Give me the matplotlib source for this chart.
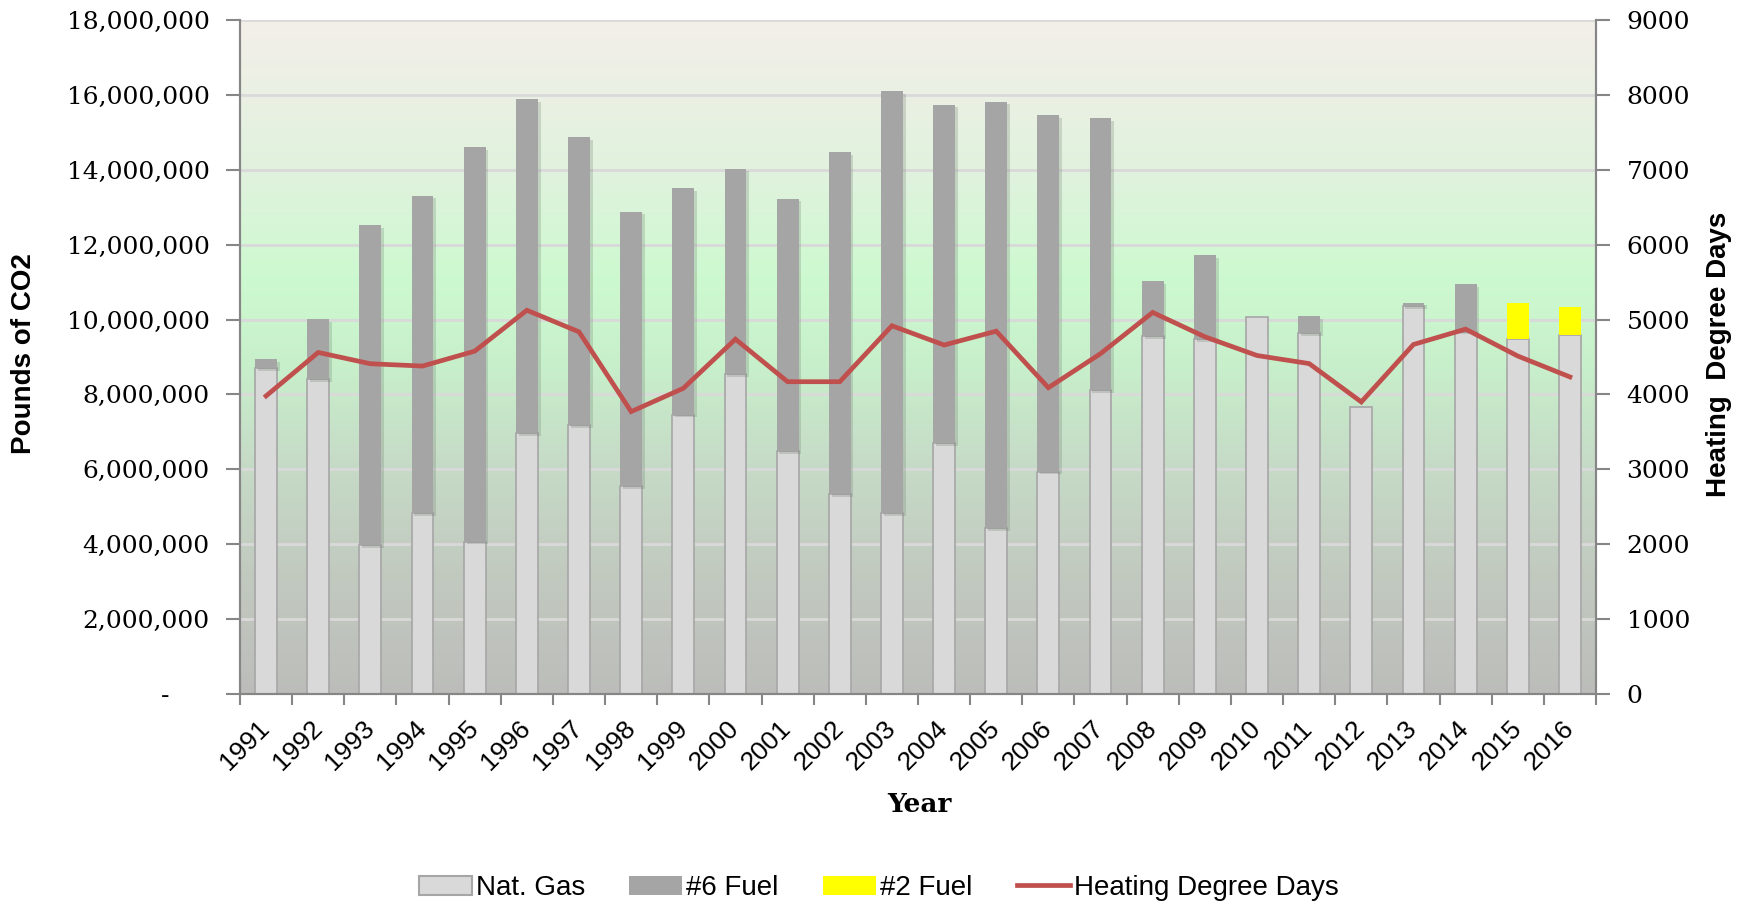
import matplotlib
matplotlib.use("Agg")
import matplotlib.pyplot as plt
import matplotlib.patheffects as pe
import numpy as np
from matplotlib.colors import LinearSegmentedColormap
from matplotlib.patches import Patch
from matplotlib.lines import Line2D

# data
years = [str(y) for y in range(1991, 2017)]
nat_gas = [8.70, 8.40, 3.98, 4.84, 4.07, 6.97, 7.19, 5.55, 7.46, 8.54, 6.48, 5.34, 4.84,
           6.70, 4.43, 5.94, 8.12, 9.55, 9.48, 10.07, 9.64, 7.66, 10.36, 9.68, 9.49, 9.58]
fuel6 = [0.24, 1.62, 8.54, 8.47, 10.53, 8.91, 7.69, 7.33, 6.06, 5.49, 6.75, 9.13, 11.26,
         9.04, 11.39, 9.51, 7.27, 1.48, 2.25, 0.0, 0.46, 0.0, 0.09, 1.27, 0.0, 0.0]
fuel2 = [0.0] * 24 + [0.96, 0.75]
hdd = [3980, 4561, 4410, 4379, 4578, 5124, 4836, 3771, 4082, 4738, 4170, 4170, 4917,
       4660, 4845, 4090, 4545, 5095, 4770, 4520, 4412, 3900, 4667, 4872, 4513, 4234]

nat_gas = np.array(nat_gas) * 1e6
fuel6 = np.array(fuel6) * 1e6
fuel2 = np.array(fuel2) * 1e6
x = np.arange(len(years))

fig = plt.figure(figsize=(17.47, 9.08), dpi=100)
ax = fig.add_axes([240 / 1747, 1 - 694 / 908, (1596 - 240) / 1747, (694 - 20) / 908])

# plot area gradient background
bg = LinearSegmentedColormap.from_list("bg", [
    (0.0, "#bcbdba"), (0.18, "#c2cac0"), (0.35, "#c6dcc7"), (0.5, "#c8f1cb"),
    (0.62, "#cdf9d0"), (0.78, "#e1f2de"), (1.0, "#f3efe9")])
ax.imshow(np.linspace(0, 1, 256).reshape(-1, 1), extent=[-0.5, 25.5, 0, 18e6],
          aspect="auto", cmap=bg, origin="lower", zorder=0.1)

shadow = [pe.SimplePatchShadow(offset=(2, -2), shadow_rgbFace="#6f7a6f", alpha=0.25), pe.Normal()]
w = 0.42
ax.bar(x, nat_gas, w, color="#d9d9d9", edgecolor="#a6a6a6", linewidth=1.2, zorder=2)
ax.bar(x, fuel6, w, bottom=nat_gas, color="#a5a5a5", linewidth=0, zorder=2, path_effects=shadow)
ax.bar(x, fuel2, w, bottom=nat_gas + fuel6, color="#ffff00", linewidth=0, zorder=2)

ax.set_xlim(-0.5, 25.5)
ax.set_ylim(0, 18e6)
ax.set_yticks(np.arange(0, 18e6 + 1, 2e6))
ax.set_yticklabels(["-     "] + ["{:,.0f}".format(v) for v in np.arange(2e6, 18e6 + 1, 2e6)],
                   family="DejaVu Serif", fontsize=18)
ax.yaxis.grid(True, color="#d9d9d9", linewidth=2, zorder=0.5)
ax.set_axisbelow(True)

ax.set_xticks(x)
ax.set_xticklabels(years, rotation=45, ha="right", va="center", rotation_mode="anchor",
                   family="Liberation Sans", fontsize=19)
ax.set_xticks(np.arange(-0.5, 26, 1), minor=True)
ax.tick_params(axis="x", which="major", length=0, pad=22)
ax.tick_params(axis="x", which="minor", length=8, width=1.5, color="#868686")
ax.tick_params(axis="y", length=10, width=1.5, color="#868686", pad=12)

for s in ["left", "right", "bottom"]:
    ax.spines[s].set_color("#868686")
    ax.spines[s].set_linewidth(1.5)
ax.spines["top"].set_visible(False)

ax2 = ax.twinx()
ax2.plot(x, hdd, color="#c0504d", linewidth=3.4, solid_joinstyle="miter", zorder=5)
ax2.set_ylim(0, 9000)
ax2.set_yticks(np.arange(0, 9001, 1000))
ax2.set_yticklabels([str(v) for v in range(0, 9001, 1000)], family="DejaVu Serif", fontsize=18)
ax2.tick_params(axis="y", length=10, width=1.5, color="#868686", pad=12)
for s in ["left", "right", "bottom"]:
    ax2.spines[s].set_color("#868686")
    ax2.spines[s].set_linewidth(1.5)
ax2.spines["top"].set_visible(False)

fig.text(24.5 / 1747, 1 - 354 / 908, "Pounds of CO2", rotation=90, ha="center", va="center",
         family="Liberation Sans", fontweight="bold", fontsize=20)
fig.text(1719 / 1747, 1 - 354 / 908, "Heating  Degree Days", rotation=90, ha="center", va="center",
         family="Liberation Sans", fontweight="bold", fontsize=20)
fig.text(919 / 1747, 1 - 804 / 908, "Year", ha="center", va="center",
         family="DejaVu Serif", fontweight="bold", fontsize=19)

handles = [Patch(facecolor="#d9d9d9", edgecolor="#a6a6a6", linewidth=1.5),
           Patch(facecolor="#a5a5a5"),
           Patch(facecolor="#ffff00"),
           Line2D([], [], color="#c0504d", linewidth=3.4)]
fig.legend(handles, ["Nat. Gas", "#6 Fuel", "#2 Fuel", "Heating Degree Days"],
           loc="center", bbox_to_anchor=(0.503, 0.022), ncol=4, frameon=False,
           prop={"family": "Liberation Sans", "size": 20}, handlelength=1.9,
           handleheight=0.7, handletextpad=0.15, columnspacing=1.6)

fig.savefig("out.png", dpi=100)
